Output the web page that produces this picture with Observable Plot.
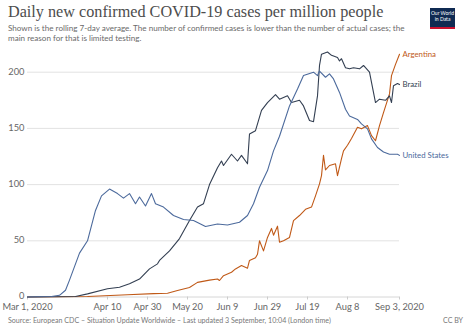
<!DOCTYPE html>
<html>
<head>
<meta charset="utf-8">
<script src="https://cdn.jsdelivr.net/npm/d3@7"></script>
<script src="https://cdn.jsdelivr.net/npm/@observablehq/plot@0.6"></script>
<style>
  html, body { margin: 0; padding: 0; background: #fff; }
  #page { position: relative; width: 473px; height: 332px; overflow: hidden; font-family: Lato, "Noto Sans", sans-serif; }
  #title { position: absolute; left: 8px; top: 3px; font-family: "Liberation Serif", serif; font-size: 16.2px; color: #4d4d4d; white-space: nowrap; }
  #subtitle { position: absolute; left: 8px; top: 23px; font-size: 8.1px; line-height: 10px; color: #6a6a6a; white-space: nowrap; }
  #logo { position: absolute; left: 430px; top: 8px; width: 25px; height: 17px; background: #0f2a52; border-bottom: 2px solid #c8102e; color: #fff; font-size: 5px; line-height: 6px; text-align: center; padding-top: 2px; box-sizing: content-box; }
  #chart { position: absolute; left: 0; top: 45px; }
  #source { position: absolute; left: 8px; top: 316px; font-size: 7.1px; color: #777; white-space: nowrap; }
  #license { position: absolute; left: 443px; top: 316px; font-size: 7.1px; color: #777; }
</style>
</head>
<body>
<div id="page">
  <div id="title">Daily new confirmed COVID-19 cases per million people</div>
  <div id="subtitle">Shown is the rolling 7-day average. The number of confirmed cases is lower than the number of actual cases; the<br>main reason for that is limited testing.</div>
  <div id="logo">Our World<br>in Data</div>
  <div id="chart"></div>
  <div id="source">Source: European CDC – Situation Update Worldwide – Last updated 3 September, 10:04 (London time)</div>
  <div id="license">CC BY</div>
</div>
<script>
const countries = ["Argentina", "Brazil", "United States"];
const colors = ["#c05917", "#333f52", "#4c6a9c"];

const usDates = ["2020-03-01","2020-03-13","2020-03-17","2020-03-20","2020-03-22","2020-03-27","2020-03-31","2020-04-04","2020-04-07","2020-04-11","2020-04-13","2020-04-15","2020-04-18","2020-04-21","2020-04-24","2020-04-26","2020-04-29","2020-05-02","2020-05-04","2020-05-08","2020-05-13","2020-05-18","2020-05-23","2020-05-29","2020-06-04","2020-06-09","2020-06-15","2020-06-19","2020-06-22","2020-06-25","2020-06-29","2020-07-02","2020-07-05","2020-07-10","2020-07-14","2020-07-17","2020-07-22","2020-07-24","2020-07-25","2020-07-28","2020-07-30","2020-08-01","2020-08-04","2020-08-07","2020-08-09","2020-08-13","2020-08-15","2020-08-18","2020-08-20","2020-08-23","2020-08-26","2020-08-29","2020-09-02","2020-09-03"];
const usValues = [0,0.5,1.5,6,15,39,50,77,90,96,94,92,88,92,83,89,81,92,83,80,72.5,69,68,62.7,65,64,66.5,72.5,83,97.6,112.5,130,143,170,185,197,200,197,201,195.5,198.5,194,182,167,161,158,154,149.6,140.7,133,129,127,127,126];

const brazilDates = ["2020-03-01","2020-03-25","2020-03-31","2020-04-10","2020-04-16","2020-04-21","2020-04-26","2020-05-01","2020-05-05","2020-05-06","2020-05-11","2020-05-16","2020-05-21","2020-05-25","2020-05-28","2020-05-31","2020-06-04","2020-06-06","2020-06-07","2020-06-11","2020-06-14","2020-06-16","2020-06-19","2020-06-20","2020-06-23","2020-06-25","2020-06-26","2020-06-29","2020-07-03","2020-07-05","2020-07-09","2020-07-11","2020-07-15","2020-07-17","2020-07-20","2020-07-22","2020-07-24","2020-07-25","2020-07-26","2020-07-29","2020-07-31","2020-08-03","2020-08-04","2020-08-05","2020-08-07","2020-08-09","2020-08-11","2020-08-14","2020-08-16","2020-08-19","2020-08-20","2020-08-22","2020-08-24","2020-08-27","2020-08-29","2020-08-30","2020-08-31","2020-09-02","2020-09-03"];
const brazilValues = [0,0.5,2.8,7.3,8.7,11.7,16,25,29.5,32.5,41,52,68,80,83,100,115,121,117,127,121,126,118.5,145,148,160,166,173,180,176,179,173,175,170,157,156,179,206,216,218,215,213,210,212,204,203,204,203,206,200,191,173,176,175,179,173,188,190,189];

const argentinaDates = ["2020-03-01","2020-03-31","2020-04-20","2020-05-03","2020-05-10","2020-05-15","2020-05-21","2020-05-25","2020-05-31","2020-06-04","2020-06-05","2020-06-07","2020-06-11","2020-06-13","2020-06-16","2020-06-19","2020-06-20","2020-06-23","2020-06-24","2020-06-25","2020-06-27","2020-06-29","2020-07-01","2020-07-02","2020-07-04","2020-07-05","2020-07-07","2020-07-10","2020-07-12","2020-07-15","2020-07-18","2020-07-21","2020-07-23","2020-07-25","2020-07-26","2020-07-27","2020-07-28","2020-07-30","2020-08-02","2020-08-03","2020-08-05","2020-08-06","2020-08-08","2020-08-10","2020-08-13","2020-08-15","2020-08-18","2020-08-20","2020-08-22","2020-08-24","2020-08-26","2020-08-29","2020-08-30","2020-09-01","2020-09-03"];
const argentinaValues = [0,0.5,2,3,3.4,5.8,8.5,13,15,16,14.7,19,22,25,28,25.6,32.5,35,38,50,41,53,61,55,63,48.7,50,53,68,72.5,78,80,90,100.7,108,126,113,117,118.5,108,123,130,135,141,151,149.6,152.5,143.6,139,152.5,164,180.7,197,207,216];

const xTickDates = ["2020-03-01","2020-04-10","2020-04-30","2020-05-20","2020-06-09","2020-06-29","2020-07-19","2020-08-08","2020-09-03"];
const xTickLabels = ["Mar 1, 2020","Apr 10","Apr 30","May 20","Jun 9","Jun 29","Jul 19","Aug 8","Sep 3, 2020"];
const yTicks = [0, 50, 100, 150, 200];

const seriesDates = [argentinaDates, brazilDates, usDates];
const seriesValues = [argentinaValues, brazilValues, usValues];

const rows = [];
countries.forEach((c, i) => {
  seriesDates[i].forEach((d, j) => rows.push({country: c, date: new Date(d + "T00:00:00Z"), value: seriesValues[i][j]}));
});
const lastRows = countries.map(c => rows.filter(r => r.country === c).at(-1));
const xTicks = xTickDates.map(d => new Date(d + "T00:00:00Z"));
const tickLabel = new Map(xTicks.map((d, i) => [+d, xTickLabels[i]]));

const chart = Plot.plot({
  width: 473,
  height: 270,
  marginLeft: 27,
  marginRight: 74,
  marginTop: 26.7,
  marginBottom: 18.5,
  style: {fontFamily: "Lato, sans-serif", fontSize: "9.3px", color: "#666", background: "transparent", overflow: "visible"},
  x: {type: "utc", domain: [xTicks[0], xTicks.at(-1)]},
  y: {domain: [0, 200]},
  color: {domain: countries, range: colors},
  marks: [
    Plot.gridY(yTicks.filter(t => t > 0), {stroke: "#dadada", strokeOpacity: 1, strokeWidth: 0.8}),
    Plot.ruleY([0], {stroke: "#ccc", strokeWidth: 0.8}),
    Plot.axisY(yTicks, {tickSize: 0, tickPadding: 3, label: null, fill: "#666", dy: -0.5}),
    Plot.axisX(xTicks, {tickSize: 3, stroke: "#ccc", tickPadding: 3, label: null, fill: "#666", tickFormat: d => tickLabel.get(+d)}),
    Plot.lineY(rows, {x: "date", y: "value", z: "country", stroke: "country", strokeWidth: 1.1}),
    Plot.text(lastRows, {x: "date", y: "value", text: "country", fill: "country", textAnchor: "start", dx: 3, fontSize: 7.8})
  ]
});
document.getElementById("chart").appendChild(chart);
</script>
</body>
</html>
